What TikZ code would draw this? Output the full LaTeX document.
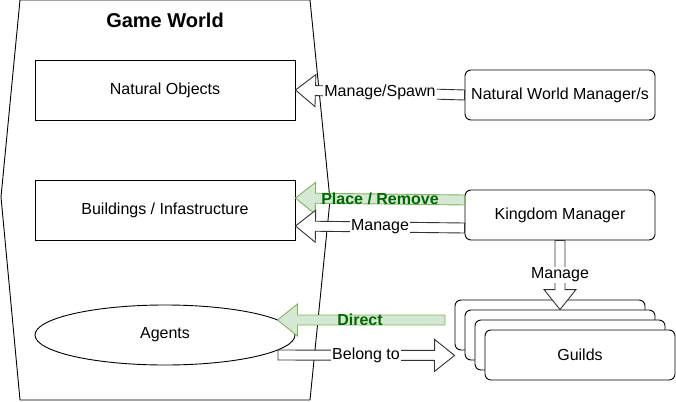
\documentclass[tikz,border=0pt]{standalone}
\usepackage{fontspec}
\setmainfont{Liberation Sans}
\usetikzlibrary{calc,shapes.geometric}

\definecolor{gfill}{HTML}{D5E8D4}
\definecolor{gline}{HTML}{82B366}
\definecolor{gtext}{HTML}{006600}

% fat arrow: #1 style, #2 tail, #3 tip
\newcommand{\fatarrow}[3]{%
\path ($(#3)!20pt!(#2)$) coordinate (fa);
\filldraw[#1] ($(#2)!5pt!90:(#3)$) -- ($(fa)!5pt!90:(#3)$) -- ($(fa)!16pt!90:(#3)$) -- (#3) -- ($(fa)!16pt!-90:(#3)$) -- ($(fa)!5pt!-90:(#3)$) -- ($(#2)!5pt!-90:(#3)$) -- cycle;
}

\begin{document}
\begin{tikzpicture}[x=1pt,y=-1pt,line width=0.9pt,font=\fontsize{16pt}{19pt}\selectfont,
box/.style={draw,minimum width=260pt,minimum height=60pt,inner sep=0pt},
mgr/.style={draw,fill=white,rounded corners=6pt,minimum width=190pt,minimum height=50pt,inner sep=0pt},
whitearrow/.style={fill=white,draw=black!80},
greenarrow/.style={fill=gfill,draw=gline},
lbl/.style={fill=white,inner sep=1pt},
glbl/.style={text=gtext,font=\fontsize{16pt}{19pt}\selectfont\bfseries,inner sep=1pt}]
\useasboundingbox (0,0) rectangle (676,401);
\draw (20,0) -- (310,0) -- (330,200) -- (310,400) -- (20,400) -- (1,197) -- cycle;
\node (world) at (165,20) {\fontsize{20pt}{24pt}\selectfont\bfseries Game World};
\node[box] (natural) at (165,90) {Natural Objects};
\node[box] (buildings) at (165,210) {Buildings / Infastructure};
\node[box,ellipse] (agents) at (165,335) {Agents};
\node[mgr] (nwm) at (560,95) {Natural World Manager/s};
\node[mgr] (kingdom) at (560,215) {Kingdom Manager};
\foreach \i in {0,1,2}
  \node[mgr] (g\i) at (550+10*\i,325+10*\i) {};
\node[mgr] (guilds) at (580,355) {Guilds};
% arrows
\fatarrow{whitearrow}{nwm.west}{natural.east}
\coordinate (prs) at ([yshift=15pt]kingdom.west);
\coordinate (prt) at ([yshift=12pt]buildings.east);
\fatarrow{greenarrow}{prs}{prt}
\coordinate (kms) at ([yshift=-13pt]kingdom.west);
\coordinate (kmt) at ([yshift=-16pt]buildings.east);
\fatarrow{whitearrow}{kms}{kmt}
\fatarrow{whitearrow}{kingdom.south}{g1.north}
\coordinate (ds) at (445,320);
\coordinate (dt) at ($(agents.east)+(-18,-15)$);
\fatarrow{greenarrow}{ds}{dt}
\coordinate (bs) at (278,355);
\coordinate (bt) at ($(g0.south west)+(0,5)$);
\fatarrow{whitearrow}{bs}{bt}
% labels
\node[lbl] (l1) at ($(nwm.west)!0.5!(natural.east)$) {Manage/Spawn};
\node[glbl] (l2) at ($(prs)!0.5!(prt)$) {Place / Remove};
\node[lbl] (l3) at ($(kms)!0.5!(kmt)$) {Manage};
\node[lbl] (l4) at (560,275) {Manage};
\node[glbl] (l5) at (360,320) {Direct};
\node[lbl] (l6) at (366,355) {Belong to};
\end{tikzpicture}
\end{document}
